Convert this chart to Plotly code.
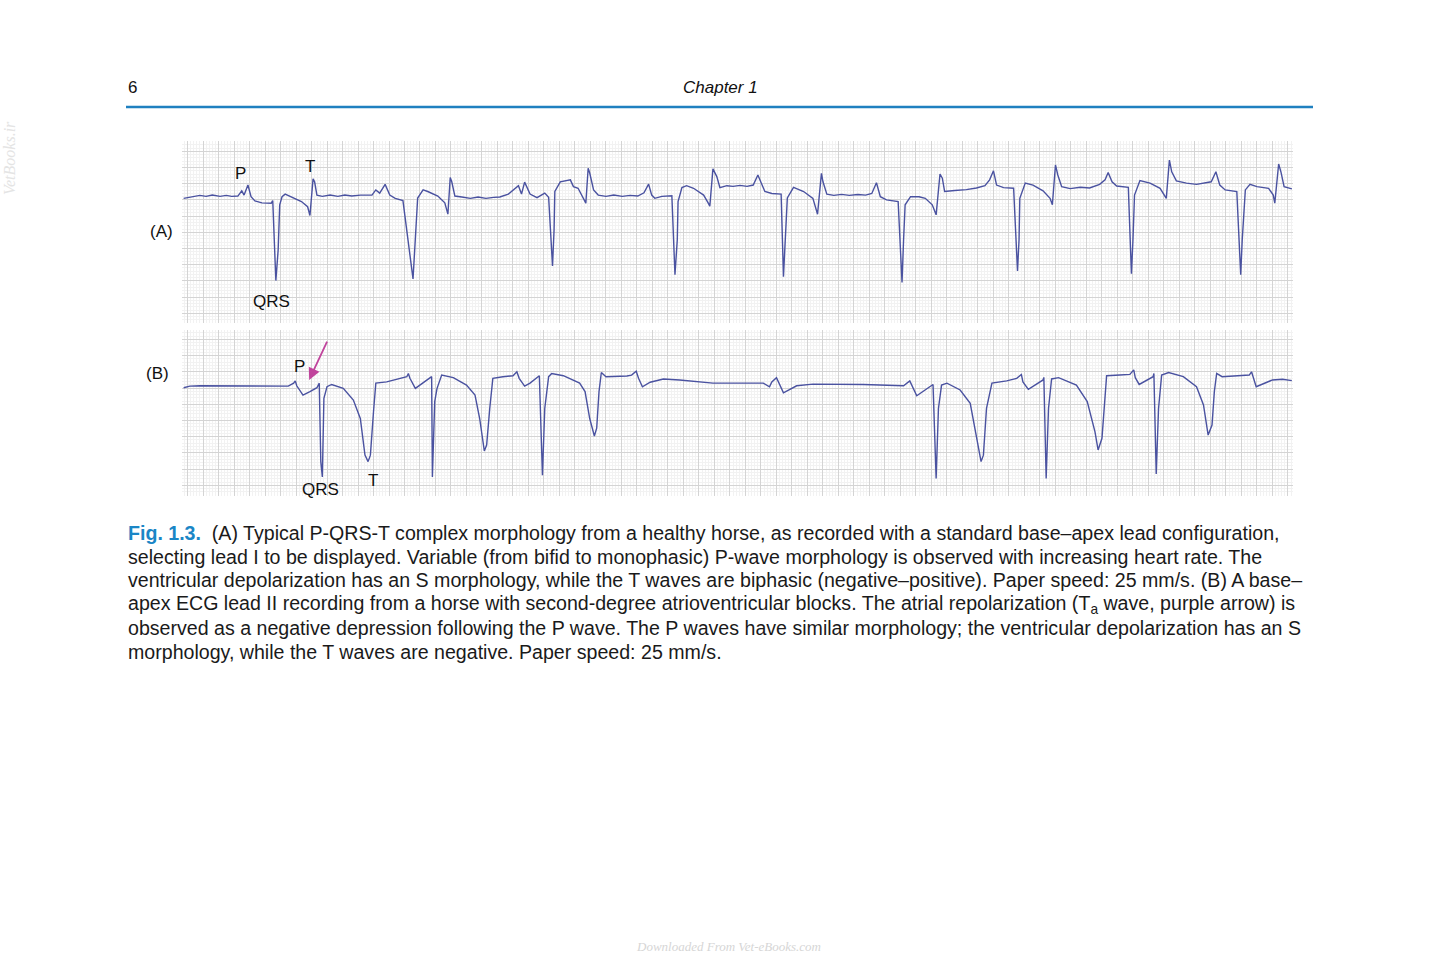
import plotly.graph_objects as go

# ---- Lead A (base-apex lead I) : time (s) and amplitude (mV) ----
A_t = [-0.05, 0.03, 0.11, 0.16, 0.24, 0.32, 0.42, 0.50, 0.57, 0.65,
       0.70, 0.73, 0.78, 0.82, 0.87, 0.96, 1.08, 1.10, 1.14, 1.17, 1.19, 1.22, 1.26,
       1.32, 1.47, 1.55, 1.58, 1.62, 1.64, 1.67, 1.74,
       1.84, 1.94, 2.03, 2.12, 2.23, 2.33, 2.38, 2.43, 2.48, 2.55, 2.61, 2.68, 2.78,
       2.91, 2.94, 2.97, 3.04, 3.10, 3.23, 3.32, 3.36, 3.39, 3.41, 3.45,
       3.54, 3.65, 3.75, 3.85, 3.95, 4.03, 4.14, 4.27, 4.31, 4.35, 4.42, 4.51, 4.61, 4.66,
       4.71, 4.73, 4.74, 4.81, 4.94, 4.98, 5.04, 5.09, 5.14, 5.17, 5.19, 5.24, 5.30,
       5.40, 5.50, 5.61, 5.71, 5.81, 5.89, 5.95, 5.99, 6.03, 6.12, 6.25,
       6.29, 6.32, 6.33, 6.38, 6.44, 6.53, 6.66, 6.72, 6.74, 6.78, 6.83, 6.87, 6.96,
       7.04, 7.13, 7.22, 7.30, 7.36, 7.41, 7.45, 7.54, 7.66,
       7.69, 7.71, 7.74, 7.82, 7.95, 8.07, 8.13, 8.18, 8.20, 8.25,
       8.34, 8.44, 8.54, 8.65, 8.75, 8.83, 8.89, 8.94, 9.02, 9.17,
       9.22, 9.24, 9.26, 9.33, 9.44, 9.52, 9.61, 9.66, 9.71, 9.74, 9.77,
       9.90, 10.05, 10.18, 10.29, 10.35, 10.40, 10.44, 10.53, 10.66,
       10.71, 10.73, 10.74, 10.81, 10.91, 11.04, 11.13, 11.16, 11.20, 11.23, 11.28,
       11.39, 11.52, 11.64, 11.77, 11.84, 11.88, 11.93, 11.99, 12.14,
       12.18, 12.20, 12.22, 12.29, 12.42, 12.55, 12.63, 12.67, 12.70, 12.76,
       12.89, 13.02, 13.15, 13.21, 13.27, 13.32, 13.39, 13.54,
       13.59, 13.61, 13.65, 13.71, 13.80, 13.95, 14.01, 14.03, 14.08, 14.11, 14.15, 14.25]
A_mv = [0.05, 0.09, 0.12, 0.14, 0.11, 0.15, 0.11, 0.14, 0.11, 0.12,
        0.28, 0.15, 0.46, 0.10, -0.03, -0.09, -0.10, -0.02, -2.49, -1.54, -0.15, 0.10, 0.18,
        0.12, -0.05, -0.21, -0.48, 0.65, 0.56, 0.15, 0.11,
        0.15, 0.11, 0.15, 0.12, 0.15, 0.14, 0.15, 0.31, 0.21, 0.48, 0.15, 0.05, -0.02,
        -2.44, -1.23, 0.06, 0.31, 0.26, 0.12, -0.09, -0.44, 0.69, 0.56, 0.12,
        0.09, 0.05, 0.09, 0.05, 0.08, 0.09, 0.18, 0.44, 0.18, 0.55, 0.18, 0.07, 0.21, 0.08,
        -2.04, -0.93, 0.26, 0.56, 0.62, 0.41, 0.36, 0.15, -0.10, 0.98, 0.83, 0.31, 0.15,
        0.11, 0.15, 0.11, 0.14, 0.12, 0.22, 0.49, 0.15, 0.05, 0.11, 0.13,
        -2.31, -1.23, -0.05, 0.38, 0.44, 0.36, 0.15, -0.10, -0.19, 0.96, 0.72, 0.38, 0.44,
        0.42, 0.45, 0.42, 0.46, 0.77, 0.46, 0.26, 0.20, 0.18,
        -2.37, -1.23, 0.06, 0.39, 0.26, 0.05, -0.44, 0.82, 0.56, 0.18,
        0.14, 0.17, 0.14, 0.17, 0.15, 0.20, 0.53, 0.10, 0.00, -0.05,
        -2.55, -1.23, -0.15, 0.10, 0.10, 0.05, -0.15, -0.46, 0.80, 0.67, 0.26,
        0.29, 0.32, 0.37, 0.44, 0.62, 0.90, 0.46, 0.38, 0.36,
        -2.19, -1.23, 0.05, 0.52, 0.46, 0.28, 0.05, -0.15, 1.08, 0.77, 0.41,
        0.35, 0.39, 0.37, 0.48, 0.62, 0.85, 0.56, 0.43, 0.39,
        -2.28, -1.23, 0.15, 0.60, 0.52, 0.36, 0.05, 1.23, 0.87, 0.59,
        0.52, 0.48, 0.52, 0.56, 0.87, 0.46, 0.31, 0.26,
        -2.31, -1.23, 0.31, 0.48, 0.41, 0.36, 0.15, -0.10, 1.11, 0.86, 0.41, 0.34]

# ---- Lead B (base-apex lead II, 2nd-degree AV block) ----
B_t = [-0.05, 0.03, 0.16, 1.28, 1.30, 1.37, 1.39, 1.41, 1.49, 1.58, 1.67, 1.70,
       1.72, 1.74, 1.76, 1.80, 1.86, 2.01, 2.14, 2.23, 2.29, 2.33, 2.36, 2.40, 2.43,
       2.57, 2.78, 2.83, 2.85, 2.87, 2.94, 3.13, 3.15,
       3.16, 3.19, 3.22, 3.28, 3.43, 3.60, 3.71, 3.77, 3.83, 3.86, 3.90, 3.94,
       4.07, 4.20, 4.25, 4.28, 4.35, 4.42, 4.54,
       4.58, 4.61, 4.66, 4.70, 4.85, 5.06, 5.13, 5.19, 5.25, 5.28, 5.31, 5.34,
       5.40, 5.67, 5.73, 5.79, 5.82, 5.87, 5.97, 6.14, 6.35, 6.78, 7.43,
       7.51, 7.54, 7.60, 7.69, 7.86, 8.07, 8.72, 9.24, 9.32, 9.41, 9.62,
       9.66, 9.69, 9.73, 9.80, 9.97, 10.10, 10.18, 10.24, 10.27, 10.31, 10.38,
       10.57, 10.70, 10.76, 10.78, 10.85, 11.04, 11.05,
       11.08, 11.11, 11.15, 11.24, 11.47, 11.61, 11.71, 11.75, 11.80, 11.84, 11.86,
       12.03, 12.16, 12.21, 12.23, 12.28, 12.46, 12.47,
       12.50, 12.53, 12.57, 12.66, 12.85, 13.02, 13.11, 13.17, 13.22, 13.25, 13.28,
       13.35, 13.59, 13.70, 13.73, 13.77, 13.79, 14.00, 14.13, 14.25]
B_mv = [0.01, 0.06, 0.07, 0.07, 0.06, 0.15, 0.22, 0.07, -0.22, -0.11, 0.01, 0.15,
        -2.27, -2.74, -0.32, 0.04, 0.11, -0.01, -0.37, -0.94, -2.07, -2.27, -2.07, -0.73, 0.15,
        0.19, 0.32, 0.35, 0.45, 0.30, -0.01, 0.30, 0.35,
        -2.74, -0.42, -0.01, 0.40, 0.32, 0.09, -0.22, -0.94, -1.94, -1.76, -0.63, 0.30,
        0.35, 0.38, 0.50, 0.30, 0.06, 0.15, 0.38,
        -2.69, -0.63, 0.35, 0.45, 0.38, 0.15, -0.11, -0.94, -1.48, -1.24, -0.11, 0.48,
        0.35, 0.37, 0.40, 0.52, 0.30, 0.04, 0.18, 0.28, 0.25, 0.15, 0.15,
        0.04, 0.19, 0.32, -0.15, 0.07, 0.12, 0.11, 0.07, 0.22, -0.24, 0.11,
        -2.79, -0.63, 0.09, 0.15, -0.06, -0.47, -1.45, -2.27, -2.07, -0.63, 0.15,
        0.22, 0.30, 0.42, 0.19, -0.04, 0.25, 0.33,
        -2.79, -0.63, 0.28, 0.32, 0.09, -0.42, -1.35, -1.91, -1.55, -0.11, 0.38,
        0.40, 0.42, 0.56, 0.32, 0.11, 0.35, 0.45,
        -2.65, -0.63, 0.40, 0.48, 0.35, 0.04, -0.52, -1.45, -1.14, -0.11, 0.45,
        0.35, 0.38, 0.40, 0.50, 0.19, 0.04, 0.25, 0.27, 0.23]

caption_lines = [
    "(A) Typical P-QRS-T complex morphology from a healthy horse, as recorded with a standard base\u2013apex lead configuration,",
    "selecting lead I to be displayed. Variable (from bifid to monophasic) P-wave morphology is observed with increasing heart rate. The",
    "ventricular depolarization has an S morphology, while the T waves are biphasic (negative\u2013positive). Paper speed: 25 mm/s. (B) A base\u2013",
    "apex ECG lead II recording from a horse with second-degree atrioventricular blocks. The atrial repolarization (T<sub>a</sub> wave, purple arrow) is",
    "observed as a negative depression following the P wave. The P waves have similar morphology; the ventricular depolarization has an S",
    "morphology, while the T waves are negative. Paper speed: 25 mm/s.",
]

W, H = 1445, 963
def px(x):
    return x / W
def py(y):
    return 1 - y / H

TRACE = "#4a52a0"
MAJ = "#d4d4d4"
MIN = "#f2f2f2"
FONT = "Liberation Sans, Arial, sans-serif"

fig = go.Figure()
fig.add_trace(go.Scatter(x=A_t, y=A_mv, mode="lines", xaxis="x", yaxis="y",
                         line=dict(color=TRACE, width=1.4), hoverinfo="skip", showlegend=False))
fig.add_trace(go.Scatter(x=B_t, y=B_mv, mode="lines", xaxis="x2", yaxis="y2",
                         line=dict(color=TRACE, width=1.4), hoverinfo="skip", showlegend=False))

def xax(dom_y_anchor):
    return dict(range=[-0.071, 14.265], domain=[px(182), px(1293)], anchor=dom_y_anchor,
                tick0=0, dtick=0.2, showgrid=True, gridcolor=MAJ, gridwidth=1,
                minor=dict(tick0=0, dtick=0.04, showgrid=True, gridcolor=MIN, gridwidth=1),
                showticklabels=False, ticks="", zeroline=False, showline=False, fixedrange=True)

def yax(rng, dom, anchor):
    return dict(range=rng, domain=dom, anchor=anchor,
                tick0=0, dtick=0.5, showgrid=True, gridcolor=MAJ, gridwidth=1,
                minor=dict(tick0=0, dtick=0.1, showgrid=True, gridcolor=MIN, gridwidth=1),
                showticklabels=False, ticks="", zeroline=False, showline=False, fixedrange=True)

ann = []
def lab(text, x, y, ref, size=17):
    ann.append(dict(text=text, x=x, y=y, xref=ref[0], yref=ref[1], showarrow=False,
                    xanchor="center", yanchor="middle",
                    font=dict(family=FONT, size=size, color="#111")))

def page(text, x, y, size=17, xanchor="center", family=FONT, color="#111", **kw):
    ann.append(dict(text=text, x=px(x), y=py(y), xref="paper", yref="paper", showarrow=False,
                    xanchor=xanchor, yanchor="middle",
                    font=dict(family=family, size=size, color=color), **kw))

# labels inside the traces
lab("P", 0.69, 0.83, ("x", "y"))
lab("T", 1.58, 1.02, ("x", "y"))
lab("QRS", 1.09, -3.15, ("x", "y"))
lab("P", 1.44, 0.65, ("x2", "y2"))
lab("QRS", 1.71, -3.12, ("x2", "y2"))
lab("T", 2.39, -2.84, ("x2", "y2"))
# Ta arrow
ann.append(dict(x=1.57, y=0.25, xref="x2", yref="y2", ax=1.81, ay=1.48, axref="x2", ayref="y2",
                showarrow=True, arrowhead=2, arrowsize=1.3, arrowwidth=1.8, arrowcolor="#c0449c", text=""))

# (A) / (B)
page("(A)", 161, 231)
page("(B)", 157, 374)

# header
page("6", 126, 87, xanchor="left")
page("<i>Chapter 1</i>", 720, 87)

# caption
ys = [533, 557, 580, 604, 628, 652]
for i, (line, yy) in enumerate(zip(caption_lines, ys)):
    t = line
    if i == 0:
        t = "<span style='color:#1a86c6'><b>Fig. 1.3.</b></span>  " + line
    page(t, 126, yy, size=19.6, xanchor="left", color="#1a1a1a", align="left")

# watermarks
page("<i>VetBooks.ir</i>", 10, 158, size=16, family="Liberation Serif, serif",
     color="#e4e4e4", textangle=-90)
page("<i>Downloaded From Vet-eBooks.com</i>", 729, 946, size=13,
     family="Liberation Serif, serif", color="#d6d6d6")

shapes = [dict(type="line", xref="paper", yref="paper", x0=px(126), x1=px(1313),
               y0=py(107), y1=py(107), line=dict(color="#1f80c0", width=2.5))]

fig.update_layout(
    width=W, height=H, margin=dict(l=0, r=0, t=0, b=0),
    paper_bgcolor="white", plot_bgcolor="white",
    xaxis=xax("y"),
    yaxis=yax([-3.80, 1.82], [py(323), py(141)], "x"),
    xaxis2=xax("y2"),
    yaxis2=yax([-3.33, 1.79], [py(496), py(330)], "x2"),
    annotations=ann, shapes=shapes, showlegend=False,
)

fig.write_html("out.html", config=dict(displayModeBar=False))
